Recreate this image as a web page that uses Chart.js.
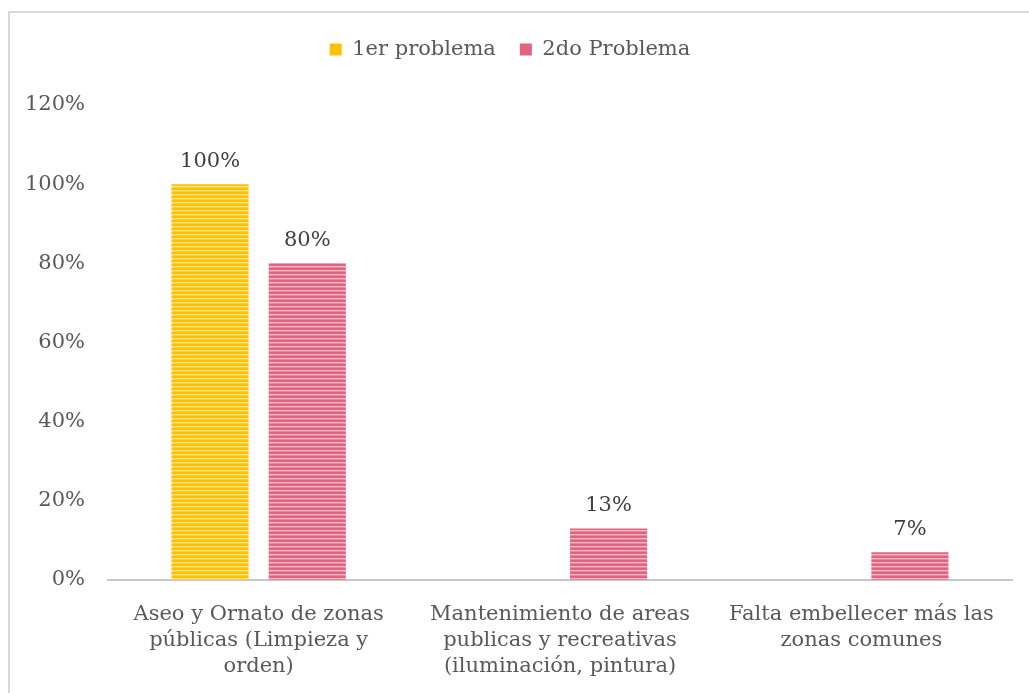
<!DOCTYPE html>
<html>
<head>
<meta charset="utf-8">
<script src="https://cdn.jsdelivr.net/npm/chart.js@4"></script>
<style>
  html, body { margin: 0; padding: 0; background: #fff; overflow: hidden; }
  #wrap { position: relative; width: 1029px; height: 693px; }
  #frame { position: absolute; left: 8px; top: 11px; width: 1040px; height: 700px; border: 2px solid #d9d9d9; box-sizing: border-box; }
  canvas { position: absolute; left: 0; top: 0; }
</style>
</head>
<body>
<div id="wrap">
  <div id="frame"></div>
  <canvas id="chart" width="1029" height="693"></canvas>
</div>
<script>
const categories = [
  ['Aseo y Ornato de zonas', 'públicas (Limpieza y', 'orden)'],
  ['Mantenimiento de areas', 'publicas y recreativas', '(iluminación, pintura)'],
  ['Falta embellecer más las', 'zonas comunes']
];
const seriesNames = ['1er problema', '2do Problema'];
const primerProblema = [1.00, 0, 0];
const segundoProblema = [0.80, 0.13, 0.07];
const yTicks = [0, 0.2, 0.4, 0.6, 0.8, 1.0, 1.2];

const textColor = '#595959';
const fontFamily = "'DejaVu Serif', Georgia, serif";
const fontSize = 21;

// horizontal stripe fill like the Excel pattern
function stripes(base, light) {
  const c = document.createElement('canvas');
  c.width = 4; c.height = 4;
  const g = c.getContext('2d');
  g.fillStyle = base;
  g.fillRect(0, 0, 4, 4);
  g.fillStyle = light;
  g.fillRect(0, 2, 4, 1.4);
  return g.createPattern(c, 'repeat');
}

const yellowFill = stripes('#FFC000', '#FFE38F');
const redFill = stripes('#E2647E', '#F5B8C4');

// extra room under the legend
const legendSpace = {
  id: 'legendSpace',
  beforeInit(chart) {
    const lg = chart.legend;
    if (!lg) return;
    const fit = lg.fit;
    lg.fit = function() {
      fit.call(this);
      this.height += 35;
    };
  }
};

const valueLabels = {
  id: 'valueLabels',
  afterDatasetsDraw(chart) {
    const ctx = chart.ctx;
    ctx.save();
    ctx.font = fontSize + 'px ' + fontFamily;
    ctx.fillStyle = '#404040';
    ctx.textAlign = 'center';
    ctx.textBaseline = 'bottom';
    chart.data.datasets.forEach((ds, i) => {
      chart.getDatasetMeta(i).data.forEach((bar, j) => {
        const v = ds.data[j];
        if (!v) return;
        ctx.fillText(Math.round(v * 100) + '%', bar.x, bar.y - 12);
      });
    });
    ctx.restore();
  }
};

new Chart(document.getElementById('chart'), {
  type: 'bar',
  data: {
    labels: categories,
    datasets: [
      { label: seriesNames[0], data: primerProblema, backgroundColor: yellowFill },
      { label: seriesNames[1], data: segundoProblema, backgroundColor: redFill }
    ]
  },
  options: {
    responsive: false,
    animation: false,
    devicePixelRatio: 1,
    categoryPercentage: 0.645,
    barPercentage: 0.794,
    layout: { padding: { left: 8, right: 17, top: 15, bottom: 0 } },
    plugins: {
      legend: {
        position: 'top',
        labels: {
          color: textColor,
          font: { family: fontFamily, size: fontSize },
          boxWidth: 12,
          boxHeight: 12,
          padding: 24,
          generateLabels(chart) {
            return chart.data.datasets.map((ds, i) => ({
              text: ds.label,
              fillStyle: i === 0 ? '#FFC000' : '#E2647E',
              strokeStyle: 'transparent',
              lineWidth: 0,
              datasetIndex: i,
              fontColor: textColor
            }));
          }
        }
      },
      tooltip: { enabled: false }
    },
    scales: {
      x: {
        afterFit(scale) { scale.height = 113; },
        grid: { display: false },
        border: { display: true, color: '#c8c8c8', width: 2 },
        ticks: {
          color: textColor,
          font: { family: fontFamily, size: fontSize, lineHeight: 1.25 },
          maxRotation: 0,
          autoSkip: false,
          padding: 13
        }
      },
      y: {
        min: 0,
        max: 1.2,
        afterFit(scale) { scale.width = 100; },
        afterBuildTicks(scale) { scale.ticks = yTicks.map(v => ({ value: v })); },
        grid: { display: false },
        border: { display: false },
        ticks: {
          color: textColor,
          font: { family: fontFamily, size: fontSize },
          padding: 15,
          callback: v => Math.round(v * 100) + '%'
        }
      }
    }
  },
  plugins: [legendSpace, valueLabels]
});
</script>
</body>
</html>
